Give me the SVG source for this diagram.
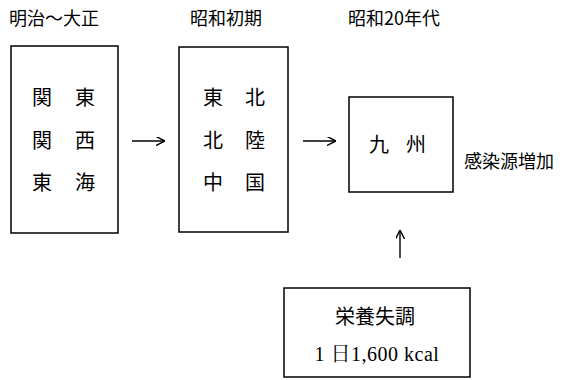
<svg xmlns="http://www.w3.org/2000/svg" width="572" height="380" viewBox="0 0 572 380">
<defs>
<marker id="ah" viewBox="0 0 10 10" refX="10" refY="5" markerWidth="9" markerHeight="9" markerUnits="userSpaceOnUse" orient="auto">
<path d="M0,0 L10,5 L0,10" fill="none" stroke="#000" stroke-width="1.6"/>
</marker>
<style>
rect{fill:#fff;stroke:#000;stroke-width:1.5}
text{font-family:"Noto Sans CJK JP","Noto Sans CJK SC",sans-serif;fill:#000}
.h{font-size:18px}
.b{font-size:20px;text-anchor:middle}
.s{font-family:"Liberation Serif","Noto Serif CJK JP","Noto Sans CJK JP",serif;font-size:20px;text-anchor:middle;letter-spacing:0.5px}
line{stroke:#000;stroke-width:1.4}
</style>
</defs>
<g id="labels">
<text class="h" x="9" y="25">明治〜大正</text>
<text class="h" x="190" y="25">昭和初期</text>
<text class="h" x="348" y="25">昭和20年代</text>
<text class="h" x="464" y="168">感染源増加</text>
</g>
<g id="box1">
<rect x="11" y="46" width="107" height="187"/>
<text class="b" x="42" y="105">関</text><text class="b" x="85" y="105">東</text>
<text class="b" x="42" y="148">関</text><text class="b" x="85" y="148">西</text>
<text class="b" x="42" y="190">東</text><text class="b" x="85" y="190">海</text>
</g>
<g id="box2">
<rect x="179" y="47" width="109" height="185"/>
<text class="b" x="213" y="105">東</text><text class="b" x="255" y="105">北</text>
<text class="b" x="213" y="148">北</text><text class="b" x="255" y="148">陸</text>
<text class="b" x="213" y="190">中</text><text class="b" x="255" y="190">国</text>
</g>
<g id="box3">
<rect x="349" y="97" width="104" height="95"/>
<text class="b" x="379" y="152">九</text><text class="b" x="416" y="152">州</text>
</g>
<g id="box4">
<rect x="284" y="288" width="186" height="89"/>
<text class="b" x="375" y="324">栄養失調</text>
<text class="s" x="377" y="361">1 日1,600 kcal</text>
</g>
<g id="connectors">
<line x1="132" y1="141" x2="165" y2="141" marker-end="url(#ah)"/>
<line x1="303" y1="141" x2="336" y2="141" marker-end="url(#ah)"/>
<line x1="400" y1="258" x2="400" y2="230" marker-end="url(#ah)"/>
</g>
</svg>
